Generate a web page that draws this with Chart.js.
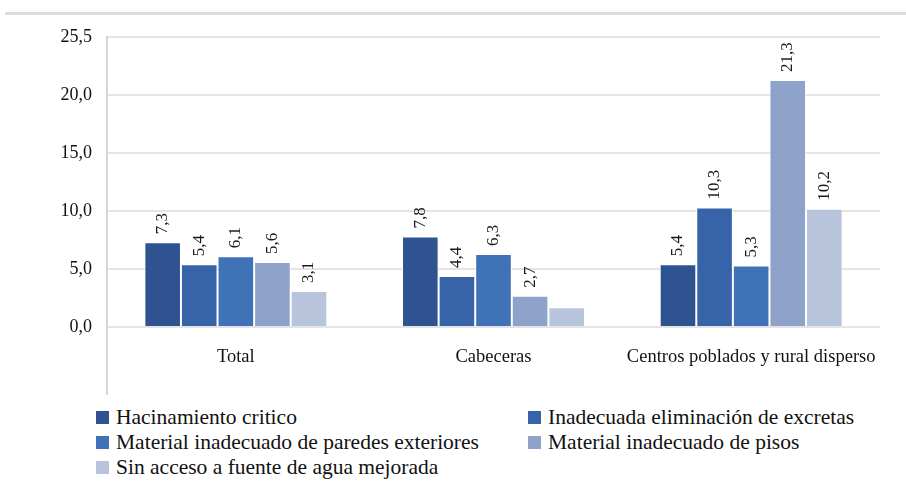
<!DOCTYPE html>
<html>
<head>
<meta charset="utf-8">
<script src="https://cdn.jsdelivr.net/npm/chart.js@4/dist/chart.umd.min.js"></script>
<style>
  body { margin: 0; background: #fff; width: 906px; height: 482px; overflow: hidden; position: relative; font-family: "Liberation Serif", "Times New Roman", Times, "DejaVu Serif", serif; }
  #topline { position: absolute; left: 5px; right: 0; top: 12px; height: 3px; background: #dcdcdc; }
  #wrap { position: absolute; left: 0; top: 0; width: 906px; height: 400px; }
  #legend { position: absolute; left: 96px; top: 405px; display: grid; grid-template-columns: 432px 360px; font-size: 21.5px; color: #111; }
  #legend div { display: flex; align-items: center; height: 25px; white-space: nowrap; }
  #legend span.sw { display: inline-block; width: 13px; height: 13px; margin-right: 7px; flex: none; }
</style>
</head>
<body>
<div id="topline"></div>
<div id="wrap"><canvas id="chart-area"></canvas></div>
<div id="legend"></div>
<script>
var categories = ["Total", "Cabeceras", "Centros poblados y rural disperso"];
var seriesNames = [
  "Hacinamiento critico",
  "Inadecuada eliminación de excretas",
  "Material inadecuado de paredes exteriores",
  "Material inadecuado de pisos",
  "Sin acceso a fuente de agua mejorada"
];
var hacinamiento = [7.3, 7.8, 5.4];
var excretas = [5.4, 4.4, 10.3];
var paredes = [6.1, 6.3, 5.3];
var pisos = [5.6, 2.7, 21.3];
var agua = [3.1, 1.7, 10.2];
// labels shown above bars (the small cabeceras water bar has none)
var aguaLabels = ["3,1", null, "10,2"];
// the top gridline sits at 25 but the source labels it 25,5
var yTicks = [0, 5, 10, 15, 20, 25];
var yTickLabels = ["0,0", "5,0", "10,0", "15,0", "20,0", "25,5"];

var colors = ['#2f5291', '#3764a8', '#3f72b6', '#8ea2ca', '#b8c4dc'];
var allData = [hacinamiento, excretas, paredes, pisos, agua];
var serif = '"Liberation Serif", "Times New Roman", Times, "DejaVu Serif", serif';

function fmt(v) { return v.toFixed(1).replace('.', ','); }

var datasets = allData.map(function(d, i) {
  return {
    label: seriesNames[i],
    data: d,
    backgroundColor: colors[i],
    borderColor: '#ffffff',
    borderWidth: 1,
    categoryPercentage: 0.71,
    barPercentage: 1.0
  };
});

// rotated value labels on top of the bars
var valueLabels = {
  id: 'valueLabels',
  afterDatasetsDraw: function(chart) {
    var ctx = chart.ctx;
    ctx.save();
    ctx.font = '17px ' + serif;
    ctx.fillStyle = '#1a1a1a';
    ctx.textAlign = 'left';
    ctx.textBaseline = 'middle';
    chart.data.datasets.forEach(function(ds, i) {
      chart.getDatasetMeta(i).data.forEach(function(bar, j) {
        var txt = i === 4 ? aguaLabels[j] : fmt(ds.data[j]);
        if (!txt) return;
        ctx.save();
        ctx.translate(bar.x, bar.y - 8);
        ctx.rotate(-Math.PI / 2);
        ctx.fillText(txt, 0, 0);
        ctx.restore();
      });
    });
    ctx.restore();
  }
};

// the left axis line runs down past the category labels
var axisExtend = {
  id: 'axisExtend',
  afterDraw: function(chart) {
    var ctx = chart.ctx, a = chart.chartArea;
    ctx.save();
    ctx.strokeStyle = '#d6d6d6';
    ctx.lineWidth = 2;
    ctx.beginPath();
    ctx.moveTo(a.left, a.bottom);
    ctx.lineTo(a.left, 395);
    ctx.stroke();
    ctx.restore();
  }
};

var config = {
  type: 'bar',
  data: { labels: categories, datasets: datasets },
  options: {
    responsive: true,
    maintainAspectRatio: false,
    animation: false,
    layout: { padding: { top: 37, right: 26, left: 0, bottom: 0 } },
    plugins: {
      legend: { display: false },
      tooltip: { enabled: false }
    },
    scales: {
      x: {
        grid: { display: false },
        border: { display: false },
        ticks: { color: '#111', font: { family: serif, size: 18.5 }, padding: 11, maxRotation: 0, autoSkip: false },
        afterFit: function(s) { s.height = 73; }
      },
      y: {
        min: 0,
        max: 25,
        afterBuildTicks: function(s) { s.ticks = yTicks.map(function(v) { return { value: v }; }); },
        grid: { color: '#e4e4e4', lineWidth: 2, drawTicks: false },
        border: { display: true, color: '#d6d6d6', width: 2 },
        ticks: {
          color: '#111',
          font: { family: serif, size: 18 },
          padding: 15,
          callback: function(v, idx) { return yTickLabels[idx]; }
        },
        afterFit: function(s) { s.width = 107; }
      }
    }
  },
  plugins: [valueLabels, axisExtend]
};

window.myBar = new Chart(document.getElementById('chart-area'), config);

var legend = document.getElementById('legend');
seriesNames.forEach(function(name, i) {
  var item = document.createElement('div');
  item.innerHTML = '<span class="sw" style="background:' + colors[i] + '"></span>' + name;
  legend.appendChild(item);
});
</script>
</body>
</html>
